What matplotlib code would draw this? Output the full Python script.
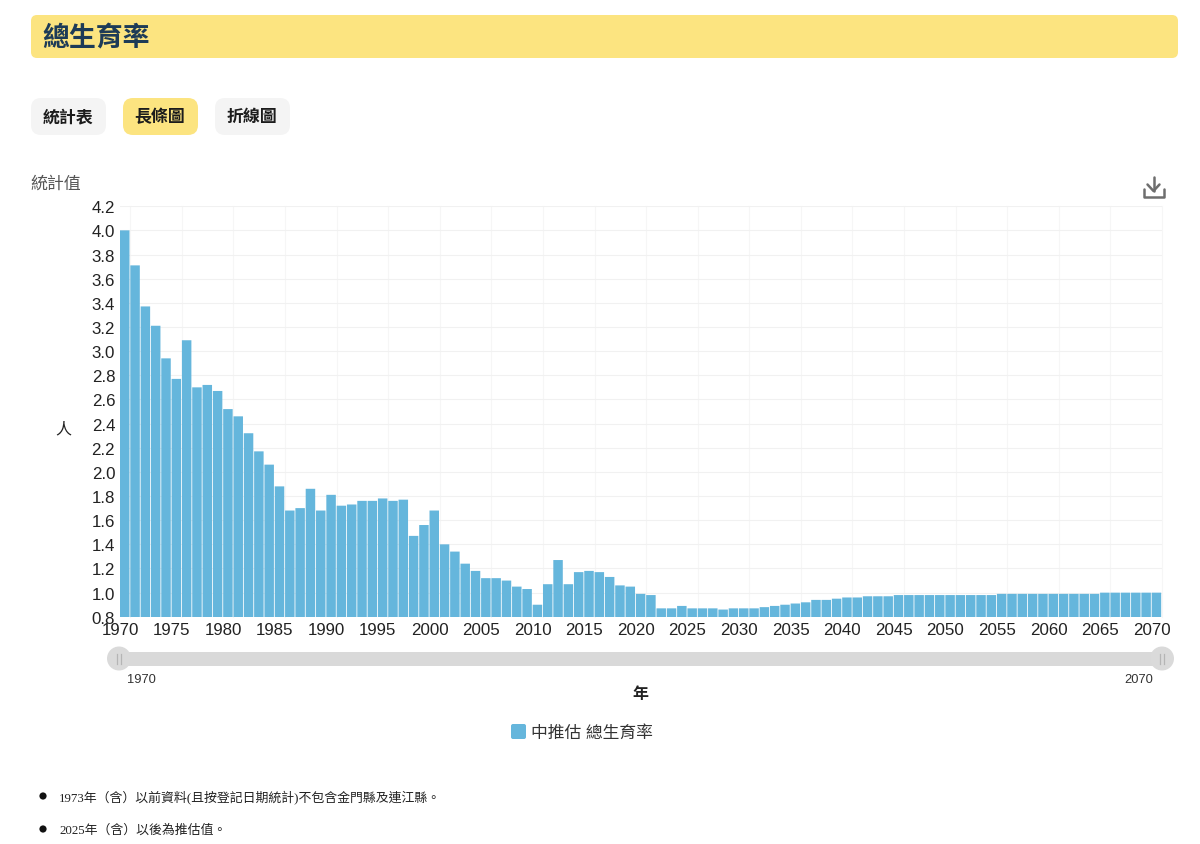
# -*- coding: utf-8 -*-
import matplotlib
matplotlib.use('Agg')
import matplotlib.pyplot as plt
from matplotlib.patches import FancyBboxPatch, Circle, Rectangle

plt.rcParams['font.family'] = ['Liberation Sans', 'Noto Sans CJK TC', 'DejaVu Sans']

# 總生育率 1970-2070
anios = list(range(1970, 2071))
valores = [
    4.00, 3.71, 3.37, 3.21, 2.94, 2.77, 3.09, 2.70, 2.72, 2.67,  # 1970
    2.52, 2.46, 2.32, 2.17, 2.06, 1.88, 1.68, 1.70, 1.86, 1.68,  # 1980
    1.81, 1.72, 1.73, 1.76, 1.76, 1.78, 1.76, 1.77, 1.47, 1.56,  # 1990
    1.68, 1.40, 1.34, 1.24, 1.18, 1.12, 1.12, 1.10, 1.05, 1.03,  # 2000
    0.90, 1.07, 1.27, 1.07, 1.17, 1.18, 1.17, 1.13, 1.06, 1.05,  # 2010
    0.99, 0.98, 0.87, 0.87, 0.89, 0.87, 0.87, 0.87, 0.86, 0.87,  # 2020
    0.87, 0.87, 0.88, 0.89, 0.90, 0.91, 0.92, 0.94, 0.94, 0.95,  # 2030
    0.96, 0.96, 0.97, 0.97, 0.97, 0.98, 0.98, 0.98, 0.98, 0.98,  # 2040
    0.98, 0.98, 0.98, 0.98, 0.98, 0.99, 0.99, 0.99, 0.99, 0.99,  # 2050
    0.99, 0.99, 0.99, 0.99, 0.99, 1.00, 1.00, 1.00, 1.00, 1.00,  # 2060
    1.00,
]
ticksY = [0.8, 1.0, 1.2, 1.4, 1.6, 1.8, 2.0, 2.2, 2.4, 2.6, 2.8, 3.0, 3.2, 3.4, 3.6, 3.8, 4.0, 4.2]
ticksX = list(range(1970, 2071, 5))
gridX = list(range(1971, 2072, 5))

titulo = '總生育率'
botones = ['統計表', '長條圖', '折線圖']
serie = '中推估 總生育率'
notas = ['1973年（含）以前資料(且按登記日期統計)不包含金門縣及連江縣。', '2025年（含）以後為推估值。']

azul = '#65B6DC'
amarillo = '#FCE480'
W, H = 1200, 845

fig = plt.figure(figsize=(W / 100, H / 100), dpi=100, facecolor='white')

# capa de fondo en pixeles para la parte de la pagina
bg = fig.add_axes([0, 0, 1, 1])
bg.set_xlim(0, W)
bg.set_ylim(H - 1, -1)
bg.axis('off')


def caja(x0, y0, x1, y1, color, r=6):
    bg.add_patch(FancyBboxPatch((x0, y0), x1 - x0, y1 - y0, boxstyle='round,pad=0,rounding_size=%d' % r,
                                facecolor=color, edgecolor='none'))


caja(31, 15, 1178, 58, amarillo)
bg.text(42.5, 38.5, titulo, fontsize=19.4, fontweight='bold', color='#1D3B57', va='center', ha='left')

colores = ['#F4F4F4', amarillo, '#F4F4F4']
for i in range(3):
    x0 = 31 + 92 * i
    caja(x0, 98, x0 + 75, 135, colores[i], r=10)
    bg.text(x0 + 37, 116.3, botones[i], fontsize=12.2, fontweight='bold', color='#1c1c1c', va='center', ha='center')

bg.text(30, 182.8, '統計值', fontsize=12.2, color='#555555', va='center', ha='left')
bg.text(63, 428, '人', fontsize=11.5, color='#222222', va='center', ha='center')

# icono descarga
gris = '#6E6E6E'
bg.plot([1153.5, 1153.5], [176.5, 190.5], color=gris, lw=1.8, solid_capstyle='round')
bg.plot([1147.5, 1153.5, 1159.5], [184.5, 191, 184.5], color=gris, lw=1.8, solid_capstyle='round', solid_joinstyle='round')
bg.plot([1144, 1144, 1164, 1164], [188.5, 196.5, 196.5, 188.5], color=gris, lw=1.8, solid_joinstyle='round', solid_capstyle='round')

# slider
bg.add_patch(Rectangle((120, 652), 1042, 14, facecolor='#D9D9D9', edgecolor='none'))
for cx in [119, 1162]:
    bg.add_patch(Circle((cx, 658.5), 12, facecolor='#DADADA', edgecolor='none'))
    bg.plot([cx - 1.7, cx - 1.7], [653.5, 663.5], color='#B5B5B5', lw=0.9)
    bg.plot([cx + 1.7, cx + 1.7], [653.5, 663.5], color='#B5B5B5', lw=0.9)
bg.text(141.5, 679, '1970', fontsize=9.3, color='#333333', va='center', ha='center')
bg.text(1139, 679, '2070', fontsize=9.3, color='#333333', va='center', ha='center')
bg.text(640, 693.5, '年', fontsize=11.5, fontweight='bold', color='#222222', va='center', ha='center')

# leyenda
caja(511, 724, 526, 739, azul, r=2)
bg.text(531, 732, serie, fontsize=12.1, color='#333333', va='center', ha='left')

# notas
for i in range(2):
    y = 796 + 33 * i
    bg.add_patch(Circle((43, y), 3.6, facecolor='#111111', edgecolor='none'))
    bg.text(59, y + 1, notas[i], fontsize=9.3, color='#222222', va='center', ha='left',
            family=['Liberation Serif', 'Noto Sans CJK TC'])

# grafico
ax = fig.add_axes([120 / W, 1 - 617.8 / H, 1042 / W, 410.6 / H])
ax.patch.set_alpha(0)
ax.bar(anios, valores, width=0.92, align='edge', color=azul, zorder=3, snap=False)
ax.set_xlim(1970, 2071)
ax.set_ylim(0.8, 4.2)
for s in ax.spines.values():
    s.set_visible(False)
ax.set_yticks(ticksY)
ax.set_yticklabels(['%.1f' % v for v in ticksY])
ax.set_xticks(ticksX)
ax.set_xticklabels([str(v) for v in ticksX])
ax.tick_params(axis='both', length=0, labelsize=12.2, labelcolor='#222222')
ax.tick_params(axis='y', pad=3.5)
ax.tick_params(axis='x', pad=4)
ax.grid(axis='y', color='#F1F1F1', lw=0.8, zorder=0)
for g in gridX:
    ax.axvline(g, color='#F6F6F6', lw=0.8, zorder=0, clip_on=False)

fig.savefig('out.png', dpi=100)
